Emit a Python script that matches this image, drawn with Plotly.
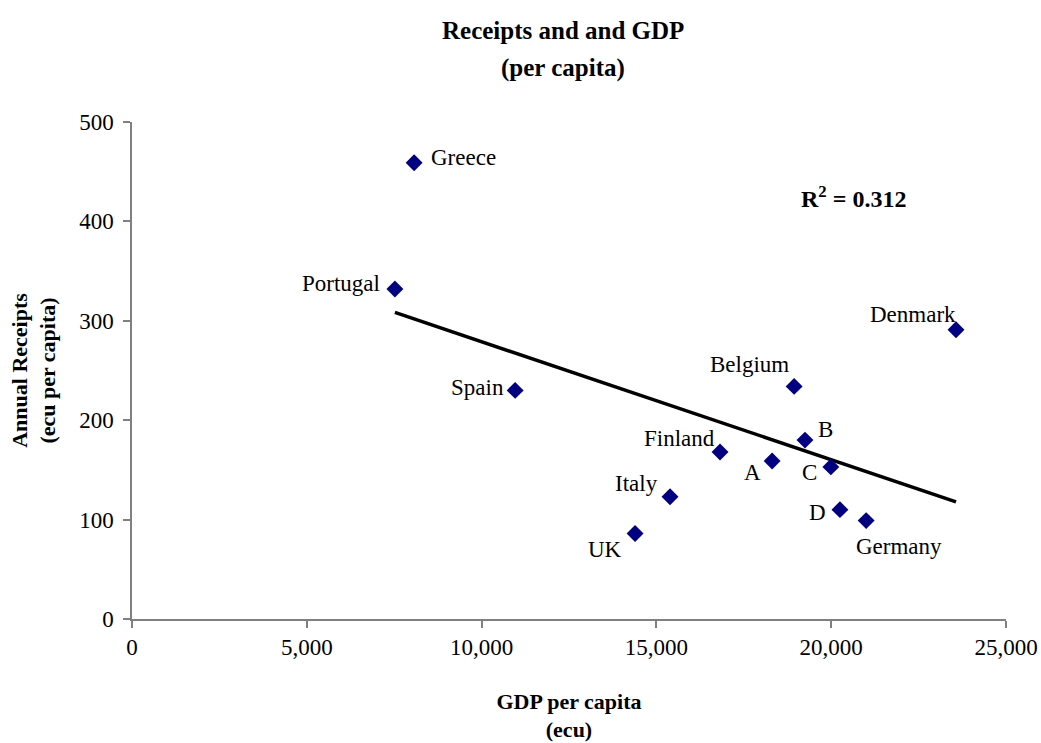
import numpy as np
import plotly.graph_objects as go

# Per-capita GDP (ecu) and annual receipts (ecu per capita) by country
countries = ["Greece", "Portugal", "Spain", "Denmark", "Belgium", "B", "C",
             "A", "Finland", "Italy", "UK", "D", "Germany"]
gdp_per_capita = [8070, 7520, 10960, 23570, 18940, 19250, 19990,
                  18310, 16820, 15390, 14390, 20250, 21000]
receipts_per_capita = [459, 332, 230, 291, 234, 180, 153,
                       159, 168, 123, 86, 110, 99]

x_ticks = [0, 5000, 10000, 15000, 20000, 25000]
y_ticks = [0, 100, 200, 300, 400, 500]
r_squared_text = "0.312"

# Label placement relative to each marker: (xshift px, yshift px, xanchor)
label_place = {
    "Greece": (15, 5, "left"),
    "Portugal": (-13, 5, "right"),
    "Spain": (-9, 3, "right"),
    "Denmark": (2, 15, "right"),
    "Belgium": (-3, 22, "right"),
    "B": (11, 11, "left"),
    "C": (-12, -6, "right"),
    "A": (-9, -12, "right"),
    "Finland": (-3, 14, "right"),
    "Italy": (-10, 13, "right"),
    "UK": (-11, -16, "right"),
    "D": (-12, -3, "right"),
    "Germany": (-12, -26, "left"),
}

FONT = "Liberation Serif, Times New Roman, serif"
TXT = 23

fig = go.Figure()

# Least-squares trend line across the range of the observations
x = np.array(gdp_per_capita, dtype=float)
y = np.array(receipts_per_capita, dtype=float)
slope, intercept = np.polyfit(x, y, 1)
x_line = np.array([x.min(), x.max()])
fig.add_trace(go.Scatter(
    x=x_line, y=slope * x_line + intercept, mode="lines",
    line=dict(color="black", width=3.5), hoverinfo="skip", showlegend=False,
))

fig.add_trace(go.Scatter(
    x=gdp_per_capita, y=receipts_per_capita, mode="markers",
    marker=dict(symbol="diamond", size=13, color="#000080",
                line=dict(width=0)),
    text=countries, showlegend=False,
))

for name, gx, ry in zip(countries, gdp_per_capita, receipts_per_capita):
    dx, dy, anchor = label_place[name]
    fig.add_annotation(
        x=gx, y=ry, text=name, showarrow=False,
        xanchor=anchor, yanchor="middle", xshift=dx, yshift=dy,
        font=dict(family=FONT, size=TXT, color="black"),
    )

fig.add_annotation(
    x=20650, y=425, text="<b>R<sup>2</sup> = " + r_squared_text + "</b>",
    showarrow=False, xanchor="center", yanchor="middle",
    font=dict(family=FONT, size=24, color="black"),
)

# Chart title, two centred lines above the plot area
title_lines = ["Receipts and and GDP", "(per capita)"]
for line, top_px in zip(title_lines, [30, 68]):
    fig.add_annotation(
        xref="paper", yref="paper", x=0.493,
        y=1 + (122 - top_px) / 497, text="<b>" + line + "</b>",
        showarrow=False, xanchor="center", yanchor="middle",
        font=dict(family=FONT, size=25, color="black"),
    )

fig.update_layout(
    width=1041, height=743,
    margin=dict(l=132, r=35, t=122, b=124, autoexpand=False),
    paper_bgcolor="white", plot_bgcolor="white",
    font=dict(family=FONT, size=TXT, color="black"),
    xaxis=dict(
        range=[0, 25000], tickvals=x_ticks, tickformat=",d",
        showgrid=False, zeroline=False, automargin=False,
        showline=True, linecolor="#808080", linewidth=1.5,
        ticks="outside", ticklen=7, tickcolor="#808080", tickwidth=1.5,
        tickfont=dict(family=FONT, size=TXT, color="black"),
        title=dict(text="<b>GDP per capita</b><br><b>(ecu)</b>",
                   font=dict(family=FONT, size=22, color="black"),
                   standoff=34),
    ),
    yaxis=dict(
        range=[0, 500], tickvals=y_ticks,
        showgrid=False, zeroline=False, automargin=False,
        showline=True, linecolor="#808080", linewidth=1.5,
        ticks="outside", ticklen=7, tickcolor="#808080", tickwidth=1.5,
        ticklabelstandoff=5,
        tickfont=dict(family=FONT, size=TXT, color="black"),
        title=dict(text="<b>Annual Receipts</b><br><b>(ecu per capita)</b>",
                   font=dict(family=FONT, size=22, color="black"),
                   standoff=17),
    ),
)

fig.write_html("out.html")
